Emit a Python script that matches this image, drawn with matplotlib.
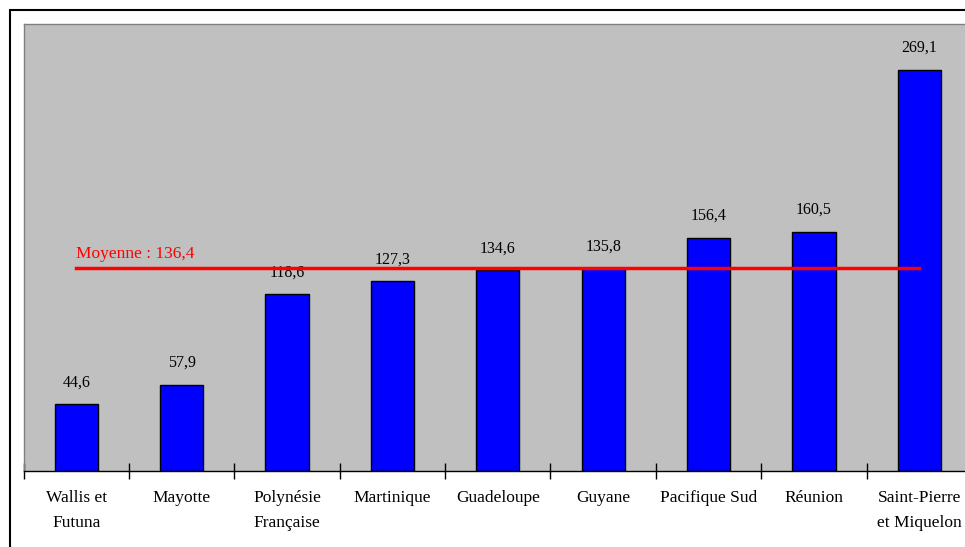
import matplotlib
matplotlib.use("Agg")
import matplotlib.pyplot as plt
from matplotlib.patches import Rectangle
from matplotlib.ticker import FixedLocator

categories = ["Wallis et\nFutuna", "Mayotte", "Polynésie\nFrançaise", "Martinique",
              "Guadeloupe", "Guyane", "Pacifique Sud", "Réunion",
              "Saint-Pierre\net Miquelon"]
values = [44.6, 57.9, 118.6, 127.3, 134.6, 135.8, 156.4, 160.5, 269.1]
mean_value = 136.4
value_labels = ["44,6", "57,9", "118,6", "127,3", "134,6", "135,8", "156,4", "160,5", "269,1"]
mean_label = "Moyenne : 136,4"

plt.rcParams['font.family'] = ['Liberation Serif', 'DejaVu Serif']

W, H = 965, 547
fig = plt.figure(figsize=(W / 100, H / 100), dpi=100)

# outer frame
fig.patches.append(Rectangle((10 / W, -0.2), 1.2, 1 - 10 / H + 0.2, transform=fig.transFigure,
                             fill=False, edgecolor='black', linewidth=1.5, clip_on=False))

left = 23.5 / W
width = 948.6 / W
bottom = 1 - 471 / H
top = 1 - 23.5 / H
ax = fig.add_axes([left, bottom, width, top - bottom])
ax.set_facecolor('#c0c0c0')

x = list(range(len(categories)))
ax.bar(x, values, width=0.41, color='#0000ff', edgecolor='black', linewidth=1, zorder=2)
for xi, v, lab in zip(x, values, value_labels):
    ax.annotate(lab, (xi, v), xytext=(0, 10), textcoords='offset points',
                ha='center', va='bottom', fontsize=11.5, color='black')

ax.plot([x[0], x[-1]], [mean_value, mean_value], color='#ff0000', linewidth=2.5, zorder=3)
ax.annotate(mean_label, (x[0], mean_value), xytext=(0, 4), textcoords='offset points',
            ha='left', va='bottom', fontsize=12.5, color='#ff0000')

ax.set_xlim(-0.5, len(categories) - 0.5)
ax.set_ylim(0, 300)
ax.set_yticks([])
ax.set_xticks(x)
ax.set_xticklabels(categories, fontsize=12.5, linespacing=1.75)
ax.tick_params(axis='x', which='major', length=0, pad=14)
ax.xaxis.set_minor_locator(FixedLocator([i - 0.5 for i in range(len(categories) + 1)]))
ax.tick_params(axis='x', which='minor', length=11, direction='inout', width=1, color='black')
ax.tick_params(axis='y', length=0)

for s in ['left', 'top', 'right']:
    ax.spines[s].set_color('#808080')
    ax.spines[s].set_linewidth(1)
ax.spines['bottom'].set_color('black')
ax.spines['bottom'].set_linewidth(1)

fig.savefig('out.png', dpi=100)
